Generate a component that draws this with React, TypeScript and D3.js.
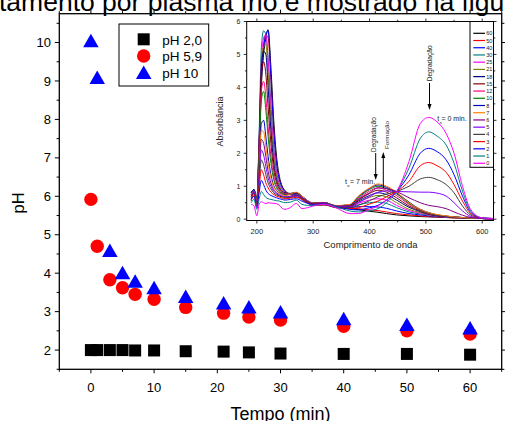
import React from 'react';
import * as d3 from 'd3';

// ---------- main chart data ----------
const timeMin = [0, 1, 3, 5, 7, 10, 15, 21, 25, 30, 40, 50, 60];
const pH20 = [2.0, 2.0, 2.0, 2.0, 1.99, 1.99, 1.97, 1.96, 1.94, 1.91, 1.9, 1.9, 1.88];
const pH59 = [5.92, 4.7, 3.83, 3.62, 3.45, 3.32, 3.11, 2.96, 2.86, 2.78, 2.62, 2.5, 2.42];
const pH10 = [10.05, 9.1, 4.6, 4.02, 3.8, 3.63, 3.4, 3.23, 3.13, 3.0, 2.82, 2.67, 2.58];
const legendLabels = ['pH 2,0', 'pH 5,9', 'pH 10'];
const xTickValues = [0, 10, 20, 30, 40, 50, 60];
const yTickValues = [2, 3, 4, 5, 6, 7, 8, 9, 10];

// ---------- inset spectra data ----------
const wavelengths = [190, 195, 200, 204, 208, 212, 216, 220, 225, 230, 235, 240, 245, 250,
  260, 270, 280, 290, 300, 320, 340, 365, 380, 400, 415, 430, 448,
  470, 490, 505, 520, 536, 550, 565, 580, 600, 620];
const abs0 = [0.45, 0.4, 0.1, 0.45, 0.53, 0.5, 0.47, 0.5, 0.49, 0.48, 0.47, 0.42, 0.33, 0.3,
  0.36, 0.48, 0.32, 0.35, 0.4, 0.45, 0.35, 0.17, 0.17, 0.3, 0.4, 0.58, 0.84,
  1.75, 2.9, 3.09, 2.95, 2.6, 2.0, 1.0, 0.28, 0.04, 0.02];
const abs1 = [0.5, 0.6, 0.3, 0.6, 0.84, 0.75, 0.66, 0.62, 0.6, 0.58, 0.56, 0.55, 0.52, 0.5,
  0.52, 0.58, 0.45, 0.42, 0.42, 0.46, 0.38, 0.25, 0.22, 0.26, 0.32, 0.5, 0.84,
  1.55, 2.45, 2.65, 2.52, 2.25, 1.7, 0.85, 0.24, 0.04, 0.02];
const abs2 = [0.6, 0.7, 0.35, 0.8, 1.18, 1.05, 0.88, 0.78, 0.72, 0.68, 0.65, 0.62, 0.6, 0.58,
  0.6, 0.62, 0.55, 0.48, 0.45, 0.47, 0.38, 0.3, 0.28, 0.35, 0.42, 0.58, 0.84,
  1.35, 2.0, 2.15, 2.05, 1.8, 1.35, 0.7, 0.2, 0.04, 0.02];
const abs3 = [0.55, 0.75, 0.4, 0.95, 1.5, 1.35, 1.1, 0.95, 0.82, 0.75, 0.7, 0.67, 0.64, 0.62,
  0.64, 0.66, 0.6, 0.5, 0.46, 0.48, 0.38, 0.32, 0.35, 0.46, 0.55, 0.68, 0.84,
  1.15, 1.62, 1.72, 1.62, 1.42, 1.05, 0.55, 0.16, 0.03, 0.02];
const abs4 = [0.6, 0.8, 0.45, 1.1, 1.8, 1.65, 1.35, 1.1, 0.92, 0.8, 0.74, 0.7, 0.67, 0.65,
  0.66, 0.68, 0.62, 0.52, 0.47, 0.48, 0.38, 0.35, 0.42, 0.56, 0.68, 0.76, 0.84,
  1.0, 1.22, 1.27, 1.2, 1.05, 0.8, 0.4, 0.12, 0.03, 0.02];
const abs5 = [0.65, 0.85, 0.5, 1.25, 2.1, 1.95, 1.6, 1.25, 1.0, 0.85, 0.77, 0.72, 0.69, 0.67,
  0.68, 0.7, 0.64, 0.53, 0.47, 0.49, 0.39, 0.37, 0.5, 0.68, 0.82, 0.86, 0.84,
  0.83, 0.82, 0.82, 0.79, 0.7, 0.5, 0.25, 0.08, 0.02, 0.01];
const abs6 = [0.7, 0.8, 0.5, 1.4, 2.42, 2.3, 1.9, 1.45, 1.1, 0.9, 0.8, 0.74, 0.7, 0.68,
  0.7, 0.72, 0.66, 0.54, 0.48, 0.5, 0.4, 0.4, 0.6, 0.8, 0.95, 0.93, 0.84,
  0.65, 0.5, 0.42, 0.38, 0.32, 0.22, 0.12, 0.05, 0.02, 0.01];
const abs7 = [0.75, 0.85, 0.55, 1.5, 2.7, 2.65, 2.2, 1.7, 1.25, 0.98, 0.85, 0.78, 0.74, 0.72,
  0.76, 0.82, 0.7, 0.56, 0.49, 0.5, 0.41, 0.45, 0.7, 0.95, 1.07, 1.0, 0.82,
  0.5, 0.3, 0.2, 0.14, 0.1, 0.07, 0.05, 0.03, 0.02, 0.01];
const abs8 = [0.8, 0.9, 0.55, 1.6, 2.9, 3.0, 2.5, 1.9, 1.35, 1.02, 0.87, 0.8, 0.75, 0.73,
  0.76, 0.8, 0.7, 0.56, 0.49, 0.5, 0.41, 0.44, 0.68, 0.93, 1.04, 0.97, 0.8,
  0.52, 0.3, 0.2, 0.13, 0.09, 0.07, 0.05, 0.03, 0.02, 0.01];
const abs10 = [0.8, 0.9, 0.6, 1.9, 3.6, 3.88, 3.3, 2.5, 1.7, 1.2, 0.95, 0.84, 0.78, 0.75,
  0.77, 0.8, 0.7, 0.56, 0.49, 0.5, 0.41, 0.43, 0.65, 0.9, 1.0, 0.93, 0.77,
  0.48, 0.28, 0.18, 0.12, 0.09, 0.07, 0.05, 0.03, 0.02, 0.01];
const abs12 = [0.75, 0.85, 0.55, 2.0, 3.9, 4.18, 3.7, 2.8, 1.9, 1.3, 1.0, 0.86, 0.8, 0.77,
  0.78, 0.8, 0.7, 0.56, 0.49, 0.5, 0.41, 0.42, 0.62, 0.85, 0.95, 0.88, 0.72,
  0.45, 0.27, 0.17, 0.12, 0.09, 0.07, 0.05, 0.03, 0.02, 0.01];
const abs15 = [0.8, 0.9, 0.6, 2.2, 4.4, 4.78, 4.4, 3.4, 2.3, 1.5, 1.1, 0.9, 0.82, 0.78,
  0.78, 0.8, 0.7, 0.55, 0.48, 0.5, 0.41, 0.41, 0.58, 0.78, 0.88, 0.82, 0.65,
  0.4, 0.25, 0.16, 0.11, 0.08, 0.06, 0.05, 0.03, 0.02, 0.01];
const abs18 = [0.8, 0.85, 0.6, 2.3, 4.6, 5.1, 5.0, 4.0, 2.7, 1.7, 1.2, 0.95, 0.85, 0.8,
  0.78, 0.8, 0.7, 0.55, 0.48, 0.5, 0.4, 0.4, 0.55, 0.72, 0.8, 0.75, 0.58,
  0.36, 0.23, 0.15, 0.1, 0.08, 0.06, 0.04, 0.03, 0.02, 0.01];
const abs21 = [0.7, 0.8, 0.55, 2.3, 4.6, 5.25, 5.3, 4.4, 3.0, 1.9, 1.3, 1.0, 0.87, 0.81,
  0.78, 0.79, 0.68, 0.54, 0.47, 0.49, 0.4, 0.39, 0.52, 0.66, 0.72, 0.68, 0.5,
  0.3, 0.2, 0.14, 0.1, 0.07, 0.05, 0.04, 0.03, 0.02, 0.01];
const abs25 = [0.75, 0.85, 0.55, 2.4, 4.8, 5.5, 5.6, 4.8, 3.3, 2.1, 1.4, 1.05, 0.9, 0.82,
  0.77, 0.78, 0.67, 0.53, 0.46, 0.48, 0.39, 0.38, 0.48, 0.58, 0.62, 0.58, 0.42,
  0.26, 0.18, 0.13, 0.09, 0.07, 0.05, 0.04, 0.03, 0.02, 0.01];
const abs30 = [0.8, 0.9, 0.55, 2.6, 5.2, 5.72, 5.6, 4.9, 3.5, 2.2, 1.45, 1.08, 0.92, 0.83,
  0.77, 0.77, 0.66, 0.52, 0.45, 0.47, 0.38, 0.37, 0.44, 0.5, 0.52, 0.48, 0.35,
  0.22, 0.16, 0.12, 0.09, 0.07, 0.05, 0.04, 0.03, 0.02, 0.01];
const abs40 = [0.7, 0.85, 0.5, 2.0, 4.2, 5.2, 5.6, 5.72, 4.3, 2.7, 1.7, 1.2, 0.97, 0.85,
  0.76, 0.76, 0.64, 0.51, 0.44, 0.46, 0.37, 0.35, 0.38, 0.38, 0.37, 0.33, 0.25,
  0.17, 0.13, 0.1, 0.08, 0.06, 0.05, 0.04, 0.03, 0.02, 0.01];
const abs50 = [0.75, 0.85, 0.5, 2.1, 4.3, 5.3, 5.6, 5.5, 4.2, 2.7, 1.7, 1.2, 0.97, 0.85,
  0.75, 0.74, 0.62, 0.5, 0.43, 0.44, 0.36, 0.33, 0.32, 0.28, 0.26, 0.22, 0.17,
  0.13, 0.1, 0.08, 0.07, 0.05, 0.04, 0.03, 0.02, 0.02, 0.01];
const abs60 = [0.7, 0.8, 0.5, 1.9, 4.0, 5.0, 5.5, 5.75, 4.6, 3.0, 1.9, 1.3, 1.0, 0.87,
  0.74, 0.73, 0.6, 0.49, 0.42, 0.43, 0.35, 0.32, 0.29, 0.24, 0.21, 0.17, 0.13,
  0.1, 0.08, 0.07, 0.06, 0.05, 0.04, 0.03, 0.02, 0.02, 0.01];

const spectrumLabels = ['60', '50', '40', '30', '25', '21', '18', '15', '12', '10', '8', '7', '6', '5', '4', '3', '2', '1', '0'];
const spectra = [abs60, abs50, abs40, abs30, abs25, abs21, abs18, abs15, abs12, abs10, abs8, abs7, abs6, abs5, abs4, abs3, abs2, abs1, abs0];
const spectrumColors = ['#000000', '#ff0000', '#0000ff', '#008080', '#ff00ff', '#808000', '#000080', '#800000',
  '#ff0080', '#008000', '#0000c0', '#ff8000', '#800080', '#8000ff', '#404040', '#ff0000', '#0000ff', '#008080', '#ff00ff'];
const insetXTicks = [200, 300, 400, 500, 600];
const insetYTicks = [0, 1, 2, 3, 4, 5, 6];

const FONT = '"Liberation Sans", Arial, Helvetica, sans-serif';

export default function App() {
  const W = 505, H = 421;
  const M = { left: 59.3, right: 501.7, top: 13.7, bottom: 369.3 };
  const x = d3.scaleLinear().domain([-5, 65]).range([M.left, M.right]);
  const y = d3.scaleLinear().domain([1.5, 10.75]).range([M.bottom, M.top]);

  const I = { left: 246.7, right: 493.5, top: 21.5, bottom: 220.5 };
  const ix = d3.scaleLinear().domain([182, 620]).range([I.left, I.right]);
  const iy = d3.scaleLinear().domain([-0.04, 6.0]).range([I.bottom, I.top]);

  const line = d3.line<number>()
    .x((_, i) => ix(wavelengths[i]))
    .y(d => iy(d))
    .curve(d3.curveMonotoneX);

  const xAll = d3.range(-5, 65.01, 5);
  const yAll = d3.range(1.5, 10.76, 0.5);
  const ixAll = d3.range(200, 600.01, 50);
  const iyAll = d3.range(0, 6.01, 0.5);

  const sq = 12, cr = 6.7, triW = 15.5, triH = 13.5;
  const tri = (cx: number, cy: number) =>
    `M${cx},${cy - triH / 2}L${cx + triW / 2},${cy + triH / 2}L${cx - triW / 2},${cy + triH / 2}Z`;

  const arrowHead = (ax: number, ay: number, dir: number) =>
    `M${ax},${ay}L${ax - 2},${ay - dir * 6}L${ax + 2},${ay - dir * 6}Z`;

  const legY = [39.3, 56, 72.3];
  const insetLegY0 = 33.3, insetLegStep = 7.22;

  return (
    <svg width={W} height={H} style={{ position: 'absolute', left: 0, top: 0, background: '#fff' }}
      fontFamily={FONT}>
      <rect x={0} y={0} width={W} height={H} fill="#fff" />
      {/* top document text (cut off) */}
      <text x={-1} y={10.5} fontSize={26.5} fill="#000">tamento por plasma frio é mostrado na figura</text>

      {/* main ticks */}
      {xAll.map(v => {
        const major = Math.abs(v % 10) < 1e-6;
        const len = major ? 4 : 2.5;
        return (
          <g key={'xt' + v}>
            <line x1={x(v)} x2={x(v)} y1={M.bottom} y2={M.bottom + len} stroke="#000" strokeWidth={1} />
            <line x1={x(v)} x2={x(v)} y1={M.top} y2={M.top - len} stroke="#000" strokeWidth={1} />
          </g>
        );
      })}
      {yAll.map(v => {
        const major = Math.abs(v - Math.round(v)) < 1e-6;
        const len = major ? 4.5 : 2.7;
        return (
          <g key={'yt' + v}>
            <line x1={M.left} x2={M.left - len} y1={y(v)} y2={y(v)} stroke="#000" strokeWidth={1} />
            <line x1={M.right} x2={M.right + len} y1={y(v)} y2={y(v)} stroke="#000" strokeWidth={1} />
          </g>
        );
      })}
      <rect x={M.left} y={M.top} width={M.right - M.left} height={M.bottom - M.top}
        fill="none" stroke="#000" strokeWidth={1.3} />

      {xTickValues.map(v => (
        <text key={'xl' + v} x={x(v)} y={391.5} fontSize={13} textAnchor="middle">{v}</text>
      ))}
      {yTickValues.map(v => (
        <text key={'yl' + v} x={51} y={y(v) + 4.6} fontSize={13} textAnchor="end">{v}</text>
      ))}
      <text x={280.5} y={419.5} fontSize={18} textAnchor="middle">Tempo (min)</text>
      <text transform="translate(23.5,203) rotate(-90)" fontSize={16.5} textAnchor="middle">pH</text>

      {/* main data */}
      {timeMin.map((t, i) => (
        <rect key={'s' + i} x={x(t) - sq / 2} y={y(pH20[i]) - sq / 2} width={sq} height={sq} fill="#000" />
      ))}
      {timeMin.map((t, i) => (
        <circle key={'c' + i} cx={x(t)} cy={y(pH59[i])} r={cr} fill="#ff0000" />
      ))}
      {timeMin.map((t, i) => (
        <path key={'t' + i} d={tri(x(t), y(pH10[i]))} fill="#0000ff" />
      ))}

      {/* main legend */}
      <rect x={119} y={24} width={89.7} height={62} fill="#fff" stroke="#000" strokeWidth={1} />
      <rect x={143.7 - sq / 2} y={legY[0] - sq / 2} width={sq} height={sq} fill="#000" />
      <circle cx={143.7} cy={legY[1]} r={cr} fill="#ff0000" />
      <path d={tri(143.7, legY[2])} fill="#0000ff" />
      {legendLabels.map((l, i) => (
        <text key={'ll' + i} x={162.3} y={legY[i] + 5.3} fontSize={13.5}>{l}</text>
      ))}

      {/* inset */}
      <defs>
        <clipPath id="insetClip">
          <rect x={I.left} y={I.top} width={I.right - I.left} height={I.bottom - I.top} />
        </clipPath>
      </defs>
      <g clipPath="url(#insetClip)">
        {spectra.map((s, k) => (
          <path key={'sp' + k} d={line(s) || ''} fill="none" stroke={spectrumColors[k]} strokeWidth={1} />
        ))}
      </g>
      {ixAll.map(v => {
        const major = v % 100 === 0;
        const len = major ? 3 : 1.8;
        return (
          <g key={'ixt' + v}>
            <line x1={ix(v)} x2={ix(v)} y1={I.bottom} y2={I.bottom + len} stroke="#000" strokeWidth={0.8} />
            <line x1={ix(v)} x2={ix(v)} y1={I.top} y2={I.top - len} stroke="#000" strokeWidth={0.8} />
          </g>
        );
      })}
      {iyAll.map(v => {
        const major = Math.abs(v - Math.round(v)) < 1e-6;
        const len = major ? 3 : 1.8;
        return (
          <g key={'iyt' + v}>
            <line x1={I.left} x2={I.left - len} y1={iy(v)} y2={iy(v)} stroke="#000" strokeWidth={0.8} />
            <line x1={I.right} x2={I.right + len} y1={iy(v)} y2={iy(v)} stroke="#000" strokeWidth={0.8} />
          </g>
        );
      })}
      <rect x={I.left} y={I.top} width={I.right - I.left} height={I.bottom - I.top}
        fill="none" stroke="#000" strokeWidth={1} />
      {insetXTicks.map(v => (
        <text key={'ixl' + v} x={ix(v)} y={234.2} fontSize={7.5} textAnchor="middle" fill="#222">{v}</text>
      ))}
      {insetYTicks.map(v => (
        <text key={'iyl' + v} x={240.5} y={iy(v) + 2.6} fontSize={7} textAnchor="end" fill="#222">{v}</text>
      ))}
      <text x={370.5} y={248.3} fontSize={9.5} textAnchor="middle" fill="#222">Comprimento de onda</text>
      <text transform="translate(223,121.5) rotate(-90)" fontSize={9} textAnchor="middle" fill="#222">Absorbância</text>

      {/* inset legend */}
      <rect x={470} y={I.top} width={I.right - 470} height={167.3 - I.top} fill="#fff" stroke="#000" strokeWidth={1} />
      {spectrumLabels.map((l, k) => (
        <g key={'il' + k}>
          <line x1={473.3} x2={485} y1={insetLegY0 + k * insetLegStep} y2={insetLegY0 + k * insetLegStep}
            stroke={spectrumColors[k]} strokeWidth={1.2} />
          <text x={486.3} y={insetLegY0 + k * insetLegStep + 2} fontSize={5.5} fill="#222">{l}</text>
        </g>
      ))}

      {/* annotations */}
      <text transform="translate(432,63.4) rotate(-90)" fontSize={6.6} textAnchor="middle" fill="#222">Degradação</text>
      <line x1={429.5} x2={429.5} y1={83} y2={104} stroke="#000" strokeWidth={1} />
      <path d={arrowHead(429.5, 110, 1)} fill="#000" />
      <text x={437.3} y={120.5} fontSize={7} fill="#222">t</text>
      <text x={439.5} y={123.5} fontSize={4} fill="#222">o</text>
      <text x={441.5} y={120.5} fontSize={7} fill="#222">= 0 min.</text>

      <text transform="translate(375.7,134.5) rotate(-90)" fontSize={6.4} textAnchor="middle" fill="#222">Degradação</text>
      <line x1={375.7} x2={375.7} y1={153} y2={174} stroke="#000" strokeWidth={1} />
      <path d={arrowHead(375.7, 180, 1)} fill="#000" />
      <text transform="translate(389.3,135) rotate(-90)" fontSize={6.2} textAnchor="middle" fill="#222">Formação</text>
      <line x1={383.3} x2={383.3} y1={188} y2={158} stroke="#000" strokeWidth={1} />
      <path d={arrowHead(383.3, 152, -1)} fill="#000" />
      <text x={345} y={183.5} fontSize={7} fill="#222">t</text>
      <text x={347.2} y={186.5} fontSize={4} fill="#222">o</text>
      <text x={350} y={183.5} fontSize={7} fill="#222">= 7 min.</text>
    </svg>
  );
}
